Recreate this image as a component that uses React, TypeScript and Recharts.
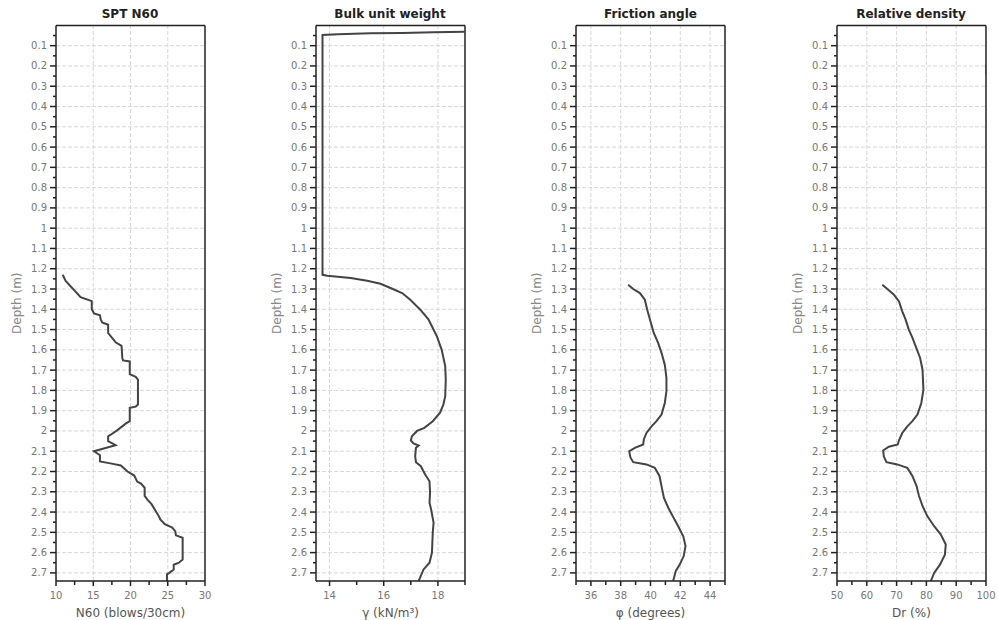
import React from "react";
import { LineChart, Line, XAxis, YAxis, ReferenceLine } from "recharts";

// depth axis (m)
const majorDepths = [0.1, 0.2, 0.3, 0.4, 0.5, 0.6, 0.7, 0.8, 0.9, 1, 1.1, 1.2, 1.3, 1.4, 1.5, 1.6, 1.7, 1.8, 1.9, 2, 2.1, 2.2, 2.3, 2.4, 2.5, 2.6, 2.7];
const minorDepths = [0.05, ...majorDepths.map((d) => +(d + 0.05).toFixed(2))].filter((d) => d < 2.74);
const depthDomain = [0, 2.74];

// SPT N60
const sptDepth = [1.23, 1.26, 1.34, 1.36, 1.4, 1.42, 1.43, 1.45, 1.465, 1.476, 1.517, 1.54, 1.563, 1.58, 1.64, 1.652, 1.657, 1.72, 1.733, 1.747, 1.87, 1.88, 1.886, 1.952, 1.963, 1.997, 2.02, 2.026, 2.05, 2.07, 2.1, 2.11, 2.12, 2.15, 2.16, 2.17, 2.2, 2.22, 2.25, 2.26, 2.28, 2.32, 2.34, 2.36, 2.39, 2.42, 2.436, 2.46, 2.477, 2.494, 2.515, 2.527, 2.634, 2.65, 2.66, 2.683, 2.7, 2.707, 2.74];
const sptN60 = [10.9, 11.3, 13.3, 14.8, 14.8, 15.1, 15.9, 16.0, 16.2, 17.0, 17.0, 17.5, 18.0, 18.8, 18.9, 19.0, 19.9, 19.9, 20.7, 21.0, 21.0, 20.7, 19.9, 19.9, 19.4, 18.2, 17.3, 17.0, 17.0, 18.0, 15.1, 15.5, 15.9, 15.9, 17.3, 18.7, 19.6, 20.5, 20.9, 21.4, 21.9, 21.9, 22.3, 22.8, 23.3, 23.8, 24.0, 24.6, 25.6, 26.0, 26.1, 27.0, 27.0, 26.5, 25.8, 25.8, 25.2, 24.9, 24.9];
const sptTicks = [10, 12.5, 15, 17.5, 20, 22.5, 25, 27.5, 30];
const sptLabels = [10, 15, 20, 25, 30];

// Bulk unit weight
const gammaDepth = [0.031, 0.034, 0.037, 0.039, 0.044, 0.047, 1.23, 1.235, 1.246, 1.259, 1.274, 1.295, 1.32, 1.353, 1.402, 1.45, 1.533, 1.6, 1.68, 1.747, 1.83, 1.87, 1.91, 1.952, 1.985, 2.0, 2.026, 2.047, 2.062, 2.072, 2.083, 2.125, 2.154, 2.174, 2.215, 2.248, 2.305, 2.354, 2.387, 2.453, 2.502, 2.6, 2.65, 2.683, 2.74];
const gammaValue = [19.0, 17.84, 16.68, 15.51, 14.31, 13.74, 13.74, 13.92, 14.78, 15.39, 15.88, 16.25, 16.68, 16.98, 17.35, 17.65, 17.96, 18.14, 18.27, 18.29, 18.27, 18.2, 18.08, 17.81, 17.5, 17.23, 17.04, 17.0, 17.1, 17.29, 17.19, 17.16, 17.19, 17.37, 17.53, 17.69, 17.71, 17.69, 17.75, 17.84, 17.81, 17.78, 17.69, 17.47, 17.29];
const gammaTicks = [14, 15, 16, 17, 18, 19];
const gammaLabels = [14, 16, 18];

// Friction angle
const phiDepth = [1.279, 1.3, 1.32, 1.353, 1.402, 1.46, 1.517, 1.566, 1.615, 1.673, 1.738, 1.804, 1.862, 1.919, 1.952, 1.977, 2.01, 2.042, 2.067, 2.083, 2.1, 2.132, 2.154, 2.165, 2.182, 2.222, 2.272, 2.33, 2.38, 2.42, 2.47, 2.52, 2.568, 2.617, 2.658, 2.69, 2.74];
const phiValue = [38.5, 38.84, 39.29, 39.62, 39.78, 40.0, 40.22, 40.51, 40.74, 40.96, 41.07, 41.07, 40.96, 40.74, 40.4, 40.07, 39.73, 39.55, 39.51, 38.95, 38.57, 38.66, 38.84, 39.73, 40.29, 40.6, 40.74, 40.9, 41.2, 41.49, 41.86, 42.2, 42.35, 42.23, 41.97, 41.7, 41.52];
const phiTicks = [35, 36, 37, 38, 39, 40, 41, 42, 43, 44, 45];
const phiLabels = [36, 38, 40, 42, 44];

// Relative density
const drDepth = [1.279, 1.3, 1.328, 1.361, 1.41, 1.45, 1.5, 1.54, 1.59, 1.64, 1.698, 1.796, 1.862, 1.919, 1.952, 1.977, 2.01, 2.046, 2.067, 2.078, 2.096, 2.125, 2.154, 2.165, 2.182, 2.222, 2.272, 2.32, 2.37, 2.42, 2.47, 2.51, 2.56, 2.61, 2.658, 2.7, 2.74];
const drValue = [65.2, 66.9, 69.1, 70.8, 71.9, 73.0, 74.1, 75.3, 76.6, 77.9, 78.7, 79.0, 78.3, 77.0, 75.3, 73.6, 71.9, 70.8, 70.4, 67.4, 65.5, 65.7, 66.6, 70.2, 73.6, 75.3, 76.7, 77.5, 78.7, 80.3, 82.6, 84.8, 86.5, 86.2, 84.6, 82.6, 81.5];
const drTopDepth = [0.19, 0.245];
const drTopValue = [100, 100];
const drTicks = [50, 55, 60, 65, 70, 75, 80, 85, 90, 95, 100];
const drLabels = [50, 60, 70, 80, 90, 100];

const rows = (depth: number[], vals: number[]) => depth.map((d, i) => ({ depth: d, v: vals[i] }));

const PLOT_W = 149;
const Y_W = 56;
const RIGHT = 14;
const TOP = 25.4;
const X_H = 39;
const H = 620;

const near = (a: number, list: number[]) => list.some((b) => Math.abs(a - b) < 1e-6);

const DepthTick = (props: any) => {
  const { x, y, payload } = props;
  const major = near(payload.value, majorDepths);
  return (
    <g>
      <line x1={x} x2={x - (major ? 6 : 3)} y1={y} y2={y} stroke="#222" strokeWidth={1.5} />
      {major && (
        <text x={x - 9} y={y} textAnchor="end" dominantBaseline="central" fontSize={10} fill="#777">
          {String(payload.value)}
        </text>
      )}
    </g>
  );
};

const makeValueTick = (labels: number[]) => (props: any) => {
  const { x, y, payload } = props;
  const major = near(payload.value, labels);
  return (
    <g>
      <line x1={x} x2={x} y1={y} y2={y + (major ? 5 : 4)} stroke="#222" strokeWidth={1.5} />
      {major && (
        <text x={x} y={y + 14} textAnchor="middle" dominantBaseline="central" fontSize={10} fill="#777">
          {String(payload.value)}
        </text>
      )}
    </g>
  );
};

type PanelProps = {
  left: number;
  title: string;
  xLabel: string;
  domain: number[];
  ticks: number[];
  labels: number[];
  data: { depth: number; v: number }[];
  extra?: { depth: number; v: number }[];
};

function Panel({ left, title, xLabel, domain, ticks, labels, data, extra }: PanelProps) {
  const grid = labels.filter((v) => v > domain[0] && v < domain[1]);
  const frame = { stroke: "#222", strokeWidth: 1.5 };
  return (
    <div style={{ position: "absolute", left, top: 0, width: Y_W + PLOT_W + RIGHT, height: H }}>
      <div
        style={{
          position: "absolute",
          left: Y_W,
          width: PLOT_W,
          top: 6,
          textAlign: "center",
          fontWeight: "bold",
          fontSize: 12,
          color: "#222",
          lineHeight: "16px",
          whiteSpace: "nowrap",
        }}
      >
        {title}
      </div>
      <LineChart
        width={Y_W + PLOT_W + RIGHT}
        height={H}
        data={data}
        layout="vertical"
        margin={{ top: TOP, right: RIGHT, bottom: 0, left: 0 }}
      >
        {majorDepths.map((d) => (
          <ReferenceLine key={"h" + d} y={d} stroke="#d8d8d8" strokeDasharray="4 2" />
        ))}
        {grid.map((v) => (
          <ReferenceLine key={"v" + v} x={v} stroke="#d8d8d8" strokeDasharray="4 2" />
        ))}
        <ReferenceLine y={depthDomain[0]} {...frame} />
        <ReferenceLine x={domain[1]} {...frame} />
        <XAxis
          type="number"
          dataKey="v"
          domain={domain}
          ticks={ticks}
          interval={0}
          allowDataOverflow
          height={X_H}
          tickSize={0}
          tickMargin={0}
          tickLine={false}
          tick={makeValueTick(labels)}
          axisLine={frame}
          label={{ value: xLabel, position: "insideBottom", offset: 3, fill: "#555", fontSize: 12 }}
        />
        <YAxis
          type="number"
          dataKey="depth"
          domain={depthDomain}
          ticks={[...minorDepths, ...majorDepths].sort((a, b) => a - b)}
          interval={0}
          allowDataOverflow
          width={Y_W}
          tickSize={0}
          tickMargin={0}
          tickLine={false}
          tick={DepthTick}
          axisLine={frame}
          label={{
            value: "Depth (m)",
            angle: -90,
            position: "insideLeft",
            offset: 17,
            style: { textAnchor: "middle" },
            fill: "#888",
            fontSize: 12,
          }}
        />
        <Line
          dataKey="v"
          type="linear"
          stroke="#444"
          strokeWidth={2}
          dot={false}
          activeDot={false}
          isAnimationActive={false}
        />
        {extra && (
          <Line
            data={extra}
            dataKey="v"
            type="linear"
            stroke="#444"
            strokeWidth={2}
            dot={false}
            activeDot={false}
            isAnimationActive={false}
          />
        )}
      </LineChart>
    </div>
  );
}

export default function App() {
  return (
    <div
      style={{
        position: "absolute",
        left: 0,
        top: 0,
        width: 998,
        height: 620,
        background: "#fff",
        fontFamily: "'DejaVu Sans', sans-serif",
        overflow: "hidden",
      }}
    >
      <Panel
        left={-0.5}
        title="SPT N60"
        xLabel="N60 (blows/30cm)"
        domain={[10, 30]}
        ticks={sptTicks}
        labels={sptLabels}
        data={rows(sptDepth, sptN60)}
      />
      <Panel
        left={259.5}
        title="Bulk unit weight"
        xLabel="γ (kN/m³)"
        domain={[13.5, 19]}
        ticks={gammaTicks}
        labels={gammaLabels}
        data={rows(gammaDepth, gammaValue)}
      />
      <Panel
        left={520}
        title="Friction angle"
        xLabel="φ (degrees)"
        domain={[35, 45]}
        ticks={phiTicks}
        labels={phiLabels}
        data={rows(phiDepth, phiValue)}
      />
      <Panel
        left={780.5}
        title="Relative density"
        xLabel="Dr (%)"
        domain={[50, 100]}
        ticks={drTicks}
        labels={drLabels}
        data={rows(drDepth, drValue)}
        extra={rows(drTopDepth, drTopValue)}
      />
    </div>
  );
}
